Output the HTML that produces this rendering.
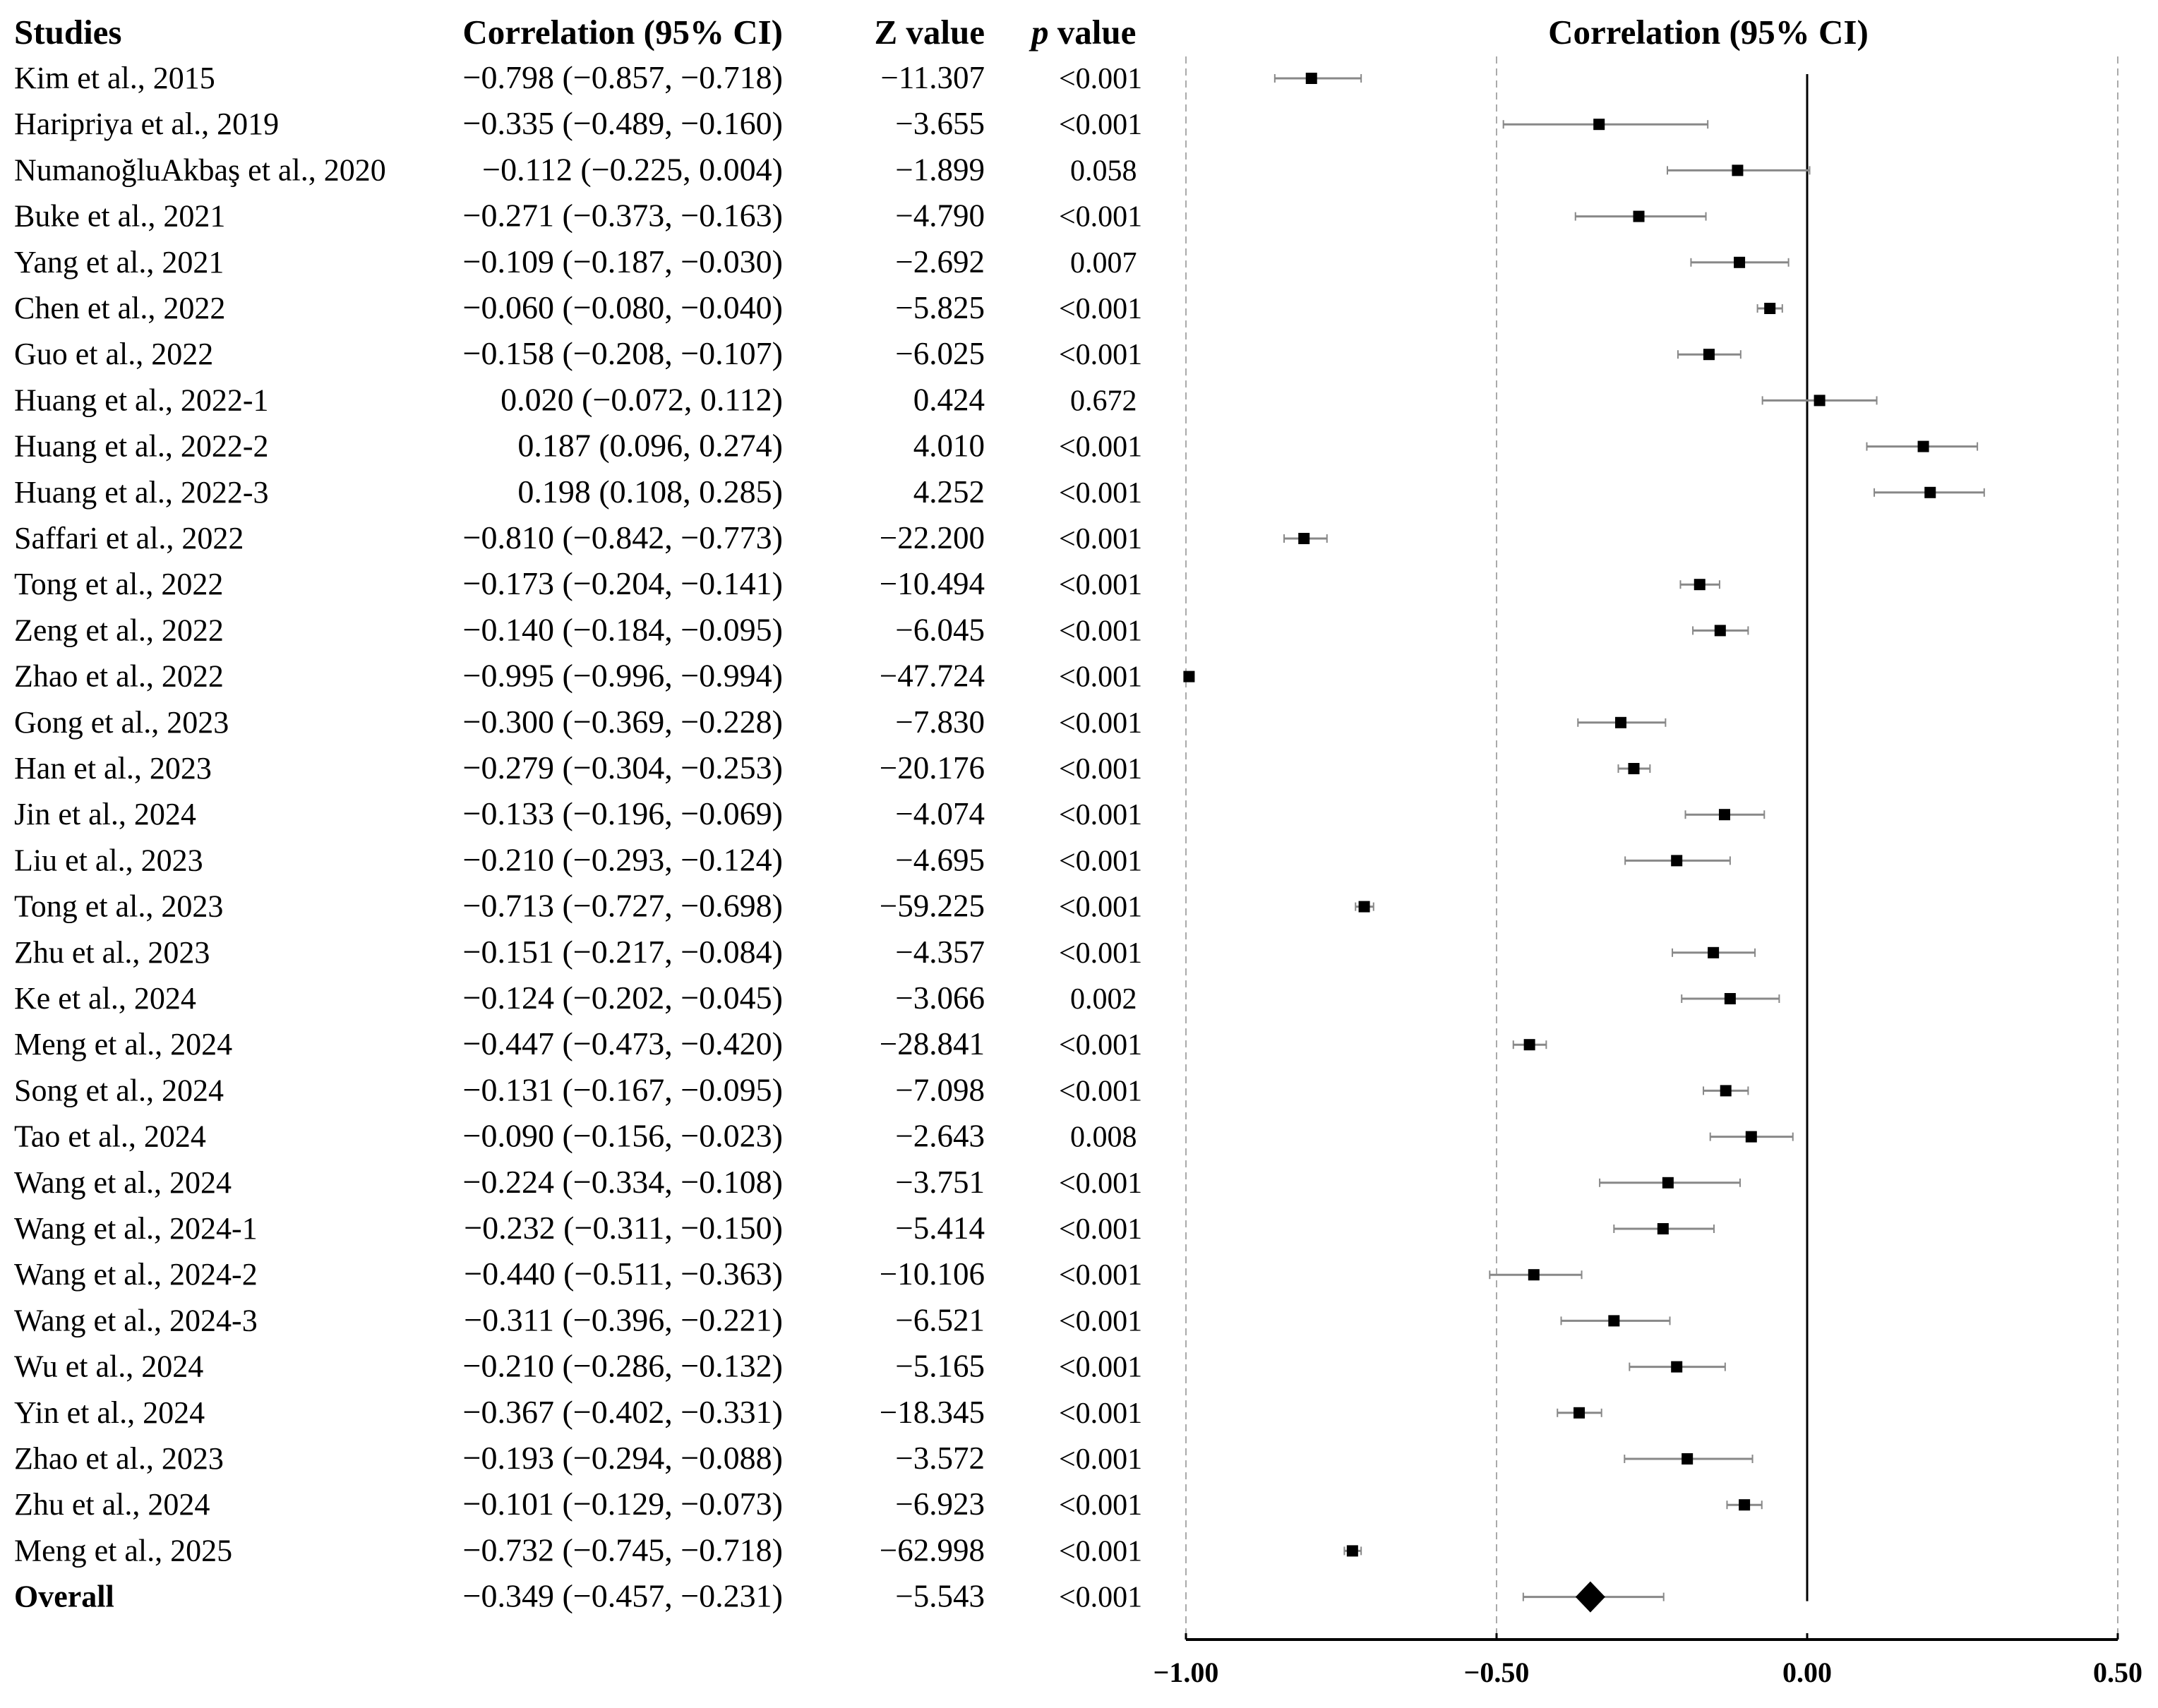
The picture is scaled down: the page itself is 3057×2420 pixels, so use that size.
<!DOCTYPE html>
<html><head><meta charset="utf-8"><style>
html,body{margin:0;padding:0;background:#fff;}
svg{display:block;font-family:"Liberation Serif","DejaVu Serif",serif;}
</style></head><body>
<svg id="chart" width="3057" height="2420" viewBox="0 0 3057 2420" xmlns="http://www.w3.org/2000/svg">
<g id="hdr" font-weight="bold" font-size="49" fill="#000">
<text x="20" y="62">Studies</text>
<text x="1109" y="62" text-anchor="end">Correlation (95% CI)</text>
<text x="1395" y="62" text-anchor="end">Z value</text>
<text x="1461" y="62"><tspan font-style="italic">p</tspan>  value</text>
<text x="2420" y="62" text-anchor="middle">Correlation (95% CI)</text>
</g>
<g id="grid"></g>
<g id="rows"></g>
<g id="marks"></g>
<g id="axis"></g>
</svg>
<script>
const studies = ["Kim et al., 2015","Haripriya et al., 2019","NumanoğluAkbaş et al., 2020","Buke et al., 2021","Yang et al., 2021","Chen et al., 2022","Guo et al., 2022","Huang et al., 2022-1","Huang et al., 2022-2","Huang et al., 2022-3","Saffari et al., 2022","Tong et al., 2022","Zeng et al., 2022","Zhao et al., 2022","Gong et al., 2023","Han et al., 2023","Jin et al., 2024","Liu et al., 2023","Tong et al., 2023","Zhu et al., 2023","Ke et al., 2024","Meng et al., 2024","Song  et al., 2024","Tao et al., 2024","Wang  et al., 2024","Wang et al., 2024-1","Wang et al., 2024-2","Wang et al., 2024-3","Wu et al., 2024","Yin et al., 2024","Zhao et al., 2023","Zhu et al., 2024","Meng et al., 2025"];
const estimates = [-0.798,-0.335,-0.112,-0.271,-0.109,-0.060,-0.158,0.020,0.187,0.198,-0.810,-0.173,-0.140,-0.995,-0.300,-0.279,-0.133,-0.210,-0.713,-0.151,-0.124,-0.447,-0.131,-0.090,-0.224,-0.232,-0.440,-0.311,-0.210,-0.367,-0.193,-0.101,-0.732];
const lowers = [-0.857,-0.489,-0.225,-0.373,-0.187,-0.080,-0.208,-0.072,0.096,0.108,-0.842,-0.204,-0.184,-0.996,-0.369,-0.304,-0.196,-0.293,-0.727,-0.217,-0.202,-0.473,-0.167,-0.156,-0.334,-0.311,-0.511,-0.396,-0.286,-0.402,-0.294,-0.129,-0.745];
const uppers = [-0.718,-0.160,0.004,-0.163,-0.030,-0.040,-0.107,0.112,0.274,0.285,-0.773,-0.141,-0.095,-0.994,-0.228,-0.253,-0.069,-0.124,-0.698,-0.084,-0.045,-0.420,-0.095,-0.023,-0.108,-0.150,-0.363,-0.221,-0.132,-0.331,-0.088,-0.073,-0.718];
const zValues = ["−11.307","−3.655","−1.899","−4.790","−2.692","−5.825","−6.025","0.424","4.010","4.252","−22.200","−10.494","−6.045","−47.724","−7.830","−20.176","−4.074","−4.695","−59.225","−4.357","−3.066","−28.841","−7.098","−2.643","−3.751","−5.414","−10.106","−6.521","−5.165","−18.345","−3.572","−6.923","−62.998"];
const pValues = ["<0.001","<0.001","0.058","<0.001","0.007","<0.001","<0.001","0.672","<0.001","<0.001","<0.001","<0.001","<0.001","<0.001","<0.001","<0.001","<0.001","<0.001","<0.001","<0.001","0.002","<0.001","<0.001","0.008","<0.001","<0.001","<0.001","<0.001","<0.001","<0.001","<0.001","<0.001","<0.001"];
const overall = [-0.349,-0.457,-0.231];
const overallZ = "−5.543";
const overallP = "<0.001";
const xTicks = [-1.0,-0.5,0.0,0.5];
const xTickLabels = ["−1.00","−0.50","0.00","0.50"];

const NS="http://www.w3.org/2000/svg";
const X0=1680, X1=2560;
const sx = v => X0 + (v + 1) * (X1 - X0);
const rowY = i => 111 + i * 65.2;
const fmt = v => (v < 0 ? "−" : "") + Math.abs(v).toFixed(3);
function mk(tag, attrs, parent){const e=document.createElementNS(NS,tag);for(const k in attrs)e.setAttribute(k,attrs[k]);parent.appendChild(e);return e;}
const grid=document.getElementById('grid'), rows=document.getElementById('rows'), marks=document.getElementById('marks'), axis=document.getElementById('axis');
const nRows = studies.length;
const yOverall = rowY(nRows);
const yAxis = 2323;

xTicks.forEach((t,k)=>{
  if (t !== 0) {
    const g = mk('line',{x1:sx(t),x2:sx(t),y1:80,y2:yAxis,stroke:'#aaa','stroke-width':2,'stroke-dasharray':'10,7'},grid);
    
    
  }
});
const zl = mk('line',{x1:sx(0),x2:sx(0),y1:rowY(0)-6,y2:yOverall+6,stroke:'#000','stroke-width':3},grid);



function textRow(i, y, name, est, lo, hi, z, p, bold){
  const g = mk('g',{fill:'#000'},rows);
  
  
  const a = mk('text',{x:20,y:y+14,'font-size':44,'font-weight':bold?'bold':'normal'},g); a.textContent=name;
  
  
  const b = mk('text',{x:1109,y:y+14,'text-anchor':'end','font-size':46},g);
  b.textContent = fmt(est)+" ("+fmt(lo)+", "+fmt(hi)+")";
  
  
  const c = mk('text',{x:1395,y:y+14,'text-anchor':'end','font-size':45},g); c.textContent=z;
  
  
  const d = mk('text',{x:p.startsWith('<')?1500:1516,y:y+14,'font-size':42},g); d.textContent=p;
  
  
}
studies.forEach((s,i)=>{
  const y=rowY(i);
  textRow(i,y,s,estimates[i],lowers[i],uppers[i],zValues[i],pValues[i],false);
  const g = mk('g',{},marks);
  
  
  mk('line',{x1:sx(lowers[i]),x2:sx(uppers[i]),y1:y,y2:y,stroke:'#888','stroke-width':3},g);
  mk('line',{x1:sx(lowers[i]),x2:sx(lowers[i]),y1:y-6,y2:y+6,stroke:'#888','stroke-width':2},g);
  mk('line',{x1:sx(uppers[i]),x2:sx(uppers[i]),y1:y-6,y2:y+6,stroke:'#888','stroke-width':2},g);
  mk('rect',{x:sx(estimates[i])-8,y:y-8,width:16,height:16,fill:'#000'},g);
});
textRow('overall',yOverall,"Overall",overall[0],overall[1],overall[2],overallZ,overallP,true);
const og = mk('g',{},marks);


mk('line',{x1:sx(overall[1]),x2:sx(overall[2]),y1:yOverall,y2:yOverall,stroke:'#888','stroke-width':3},og);
mk('line',{x1:sx(overall[1]),x2:sx(overall[1]),y1:yOverall-6,y2:yOverall+6,stroke:'#888','stroke-width':2},og);
mk('line',{x1:sx(overall[2]),x2:sx(overall[2]),y1:yOverall-6,y2:yOverall+6,stroke:'#888','stroke-width':2},og);
const cx=sx(overall[0]);
mk('polygon',{points:`${cx-21},${yOverall} ${cx},${yOverall-22} ${cx+21},${yOverall} ${cx},${yOverall+22}`,fill:'#000'},og);

const al = mk('line',{x1:sx(xTicks[0]),x2:sx(xTicks[xTicks.length-1]),y1:yAxis,y2:yAxis,stroke:'#000','stroke-width':4},axis);


xTicks.forEach((t,k)=>{
  const tk = mk('line',{x1:sx(t),x2:sx(t),y1:yAxis-9,y2:yAxis,stroke:'#000','stroke-width':3},axis);
  
  
  const lb = mk('text',{x:sx(t),y:yAxis+60,'text-anchor':'middle','font-size':40,'font-weight':'bold',fill:'#000'},axis);
  lb.textContent = xTickLabels[k];
  
  
});
</script>
</body></html>
